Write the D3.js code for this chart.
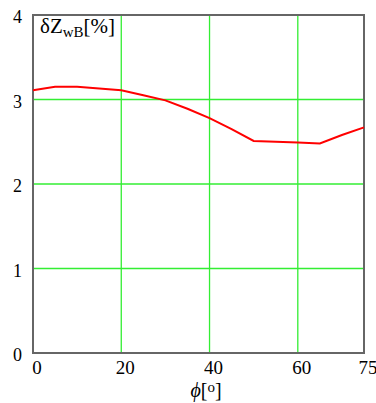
<!DOCTYPE html>
<html><head><meta charset="utf-8">
<script src="https://cdn.jsdelivr.net/npm/d3@7"></script>
<style>body{margin:0;background:#fff}</style>
</head><body>
<script>
const phi = [0,5,10,15,20,25,30,35,40,45,50,55,60,65,70,75];
const dz  = [3.11,3.15,3.15,3.13,3.11,3.05,2.99,2.89,2.78,2.65,2.51,2.50,2.49,2.48,2.58,2.67];
const xTicks = [0,20,40,60,75];
const yTicks = [0,1,2,3,4];

const W=376,H=403;
const m={l:33,r:12,t:15,b:50};
const svg=d3.select("body").append("svg").attr("width",W).attr("height",H);
const x=d3.scaleLinear().domain([0,75]).range([m.l,W-m.r]);
const y=d3.scaleLinear().domain([0,4]).range([H-m.b,m.t]);
const font="Liberation Serif, Times New Roman, serif";

// grid
svg.append("g").selectAll("line").data(xTicks.filter(d=>d>0&&d<75)).join("line")
 .attr("x1",d=>x(d)).attr("x2",d=>x(d)).attr("y1",y(0)).attr("y2",y(4))
 .attr("stroke","#33ee33").attr("stroke-width",1.3);
svg.append("g").selectAll("line").data(yTicks.filter(d=>d>0&&d<4)).join("line")
 .attr("y1",d=>y(d)).attr("y2",d=>y(d)).attr("x1",x(0)).attr("x2",x(75))
 .attr("stroke","#33ee33").attr("stroke-width",1.3);

// frame
svg.append("rect").attr("x",x(0)).attr("y",y(4)).attr("width",x(75)-x(0)).attr("height",y(0)-y(4))
 .attr("fill","none").attr("stroke","#666").attr("stroke-width",2);

// line
svg.append("path").datum(phi.map((p,i)=>[p,dz[i]]))
 .attr("d",d3.line().x(d=>x(d[0])).y(d=>y(d[1])))
 .attr("fill","none").attr("stroke","#ff0000").attr("stroke-width",2);

// tick labels
svg.append("g").selectAll("text").data(xTicks).join("text")
 .attr("x",d=>x(d)+4).attr("y",y(0)+21).attr("text-anchor","middle")
 .attr("font-family",font).attr("font-size",19).text(d=>d);
svg.append("g").selectAll("text").data(yTicks).join("text")
 .attr("x",x(0)-11).attr("y",d=>y(d)+8).attr("text-anchor","end")
 .attr("font-family",font).attr("font-size",18).text(d=>d);

// title
const t=svg.append("text").attr("x",40).attr("y",33).attr("font-family",font).attr("font-size",21);
t.append("tspan").text("δZ");
t.append("tspan").attr("font-size",15).attr("dy",4).text("wB");
t.append("tspan").attr("dy",-4).text("[%]");

// axis label
const a=svg.append("text").attr("x",206).attr("y",397).attr("text-anchor","middle").attr("font-family",font).attr("font-size",20);
a.append("tspan").attr("font-style","italic").text("ϕ");
a.append("tspan").text("[");
a.append("tspan").attr("font-size",15).attr("dy",-5).text("o");
a.append("tspan").attr("dy",5).text("]");
</script>
</body></html>
